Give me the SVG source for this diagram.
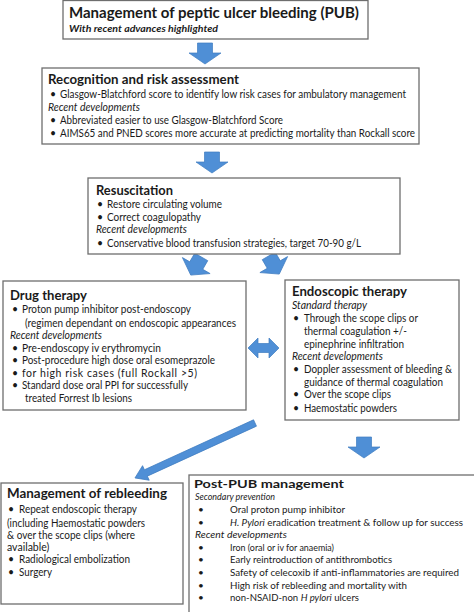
<svg xmlns="http://www.w3.org/2000/svg" width="474" height="612" viewBox="0 0 474 612">
<style>
.box{fill:#fff;stroke:#6e6e6e;stroke-width:1.3}
text{font-family:Lato,"Liberation Sans",sans-serif;fill:#1a1a1a}
.t{font-weight:bold;font-size:13.5px}
.b{font-size:10.5px}
.i{font-size:10.5px;font-style:italic}
.s{font-size:10px}
.si{font-size:10px;font-style:italic}
.arr{fill:#4f8fd6;stroke:#3f7cc0;stroke-width:0.7}
</style>
<defs>
<path id="down" d="M-7.5,-10.5 H7.5 V-0.5 H16 L0,10.5 L-16,-0.5 H-7.5 Z"/>
</defs>
<g id="connectors">
<use href="#down" class="arr" transform="translate(205,53.5)"/>
<use href="#down" class="arr" transform="translate(212,162.5)"/>
<use href="#down" class="arr" transform="translate(196,266) rotate(30)"/>
<use href="#down" class="arr" transform="translate(274,265) rotate(-30)"/>
<path class="arr" d="M248,348 L258,338 V343.5 H269 V338 L279,348 L269,358 V352.5 H258 V358 Z"/>
<path class="arr" transform="translate(255,423) rotate(155.4)" d="M0,-3.5 H120 V-8 L132,0 L120,8 V3.5 H0 Z"/>
<use href="#down" class="arr" transform="translate(364,447.5)"/>
</g>
<g id="title">
<rect class="box" x="63" y="0.5" width="305" height="38.5"/>
<text x="69" y="18" font-size="15.5" font-weight="bold" textLength="290" lengthAdjust="spacingAndGlyphs">Management of peptic ulcer bleeding (PUB)</text>
<text x="69" y="32" font-size="9.5" font-weight="bold" font-style="italic" textLength="149" lengthAdjust="spacingAndGlyphs">With recent advances highlighted</text>
</g>
<g id="recognition">
<rect class="box" x="42" y="68" width="377" height="76"/>
<text class="t" x="48" y="84" textLength="191" lengthAdjust="spacingAndGlyphs">Recognition and risk assessment</text>
<text class="b" x="50" y="98">•</text>
<text class="b" x="60" y="98" textLength="346" lengthAdjust="spacingAndGlyphs">Glasgow-Blatchford score to identify low risk cases for ambulatory management</text>
<text class="i" x="48" y="111" textLength="92" lengthAdjust="spacingAndGlyphs">Recent developments</text>
<text class="b" x="50" y="124">•</text>
<text class="b" x="60" y="124" textLength="223" lengthAdjust="spacingAndGlyphs">Abbreviated easier to use Glasgow-Blatchford Score</text>
<text class="b" x="50" y="137">•</text>
<text class="b" x="60" y="137" textLength="355" lengthAdjust="spacingAndGlyphs">AIMS65 and PNED scores more accurate at predicting mortality than Rockall score</text>
</g>
<g id="resuscitation">
<rect class="box" x="88" y="178" width="312" height="76"/>
<text class="t" x="96" y="195" textLength="77" lengthAdjust="spacingAndGlyphs">Resuscitation</text>
<text class="b" x="97" y="208">•</text>
<text class="b" x="107" y="208" textLength="115" lengthAdjust="spacingAndGlyphs">Restore circulating volume</text>
<text class="b" x="97" y="221">•</text>
<text class="b" x="107" y="221" textLength="94" lengthAdjust="spacingAndGlyphs">Correct coagulopathy</text>
<text class="i" x="96" y="233" textLength="91" lengthAdjust="spacingAndGlyphs">Recent developments</text>
<text class="b" x="97" y="247">•</text>
<text class="b" x="107" y="247" textLength="254" lengthAdjust="spacingAndGlyphs">Conservative blood transfusion strategies, target 70-90 g/L</text>
</g>
<g id="drug">
<rect class="box" x="3" y="281" width="243" height="129"/>
<text class="t" x="10" y="300" textLength="77" lengthAdjust="spacingAndGlyphs">Drug therapy</text>
<text class="b" x="12" y="313">•</text>
<text class="b" x="22" y="313" textLength="169" lengthAdjust="spacingAndGlyphs">Proton pump inhibitor post-endoscopy</text>
<text class="b" x="25" y="327" textLength="211" lengthAdjust="spacingAndGlyphs">(regimen dependant on endoscopic appearances</text>
<text class="i" x="10" y="339" textLength="92" lengthAdjust="spacingAndGlyphs">Recent developments</text>
<text class="b" x="12" y="352">•</text>
<text class="b" x="22" y="352" textLength="139" lengthAdjust="spacingAndGlyphs">Pre-endoscopy iv erythromycin</text>
<text class="b" x="12" y="364">•</text>
<text class="b" x="22" y="364" textLength="193" lengthAdjust="spacingAndGlyphs">Post-procedure high dose oral esomeprazole</text>
<text class="b" x="12" y="377">•</text>
<text class="b" x="22" y="377" textLength="175" lengthAdjust="spacing">for high risk cases (full Rockall &gt;5)</text>
<text class="b" x="12" y="389">•</text>
<text class="b" x="22" y="389" textLength="166" lengthAdjust="spacingAndGlyphs">Standard dose oral PPI for successfully</text>
<text class="b" x="25" y="402" textLength="107" lengthAdjust="spacingAndGlyphs">treated Forrest Ib lesions</text>
</g>
<g id="endoscopic">
<rect class="box" x="285" y="280" width="174" height="140"/>
<text class="t" x="292" y="296" textLength="115" lengthAdjust="spacingAndGlyphs">Endoscopic therapy</text>
<text class="i" x="292" y="309" textLength="75" lengthAdjust="spacingAndGlyphs">Standard therapy</text>
<text class="b" x="293" y="322">•</text>
<text class="b" x="304" y="322" textLength="114" lengthAdjust="spacingAndGlyphs">Through the scope clips or</text>
<text class="b" x="304" y="335" textLength="103" lengthAdjust="spacingAndGlyphs">thermal coagulation +/-</text>
<text class="b" x="304" y="348" textLength="100" lengthAdjust="spacingAndGlyphs">epinephrine infiltration</text>
<text class="i" x="292" y="360" textLength="91" lengthAdjust="spacingAndGlyphs">Recent developments</text>
<text class="b" x="293" y="373">•</text>
<text class="b" x="304" y="373" textLength="148" lengthAdjust="spacingAndGlyphs">Doppler assessment of bleeding &amp;</text>
<text class="b" x="304" y="386" textLength="139" lengthAdjust="spacingAndGlyphs">guidance of thermal coagulation</text>
<text class="b" x="293" y="398">•</text>
<text class="b" x="304" y="398" textLength="87" lengthAdjust="spacingAndGlyphs">Over the scope clips</text>
<text class="b" x="293" y="412">•</text>
<text class="b" x="304" y="412" textLength="93" lengthAdjust="spacingAndGlyphs">Haemostatic powders</text>
</g>
<g id="rebleeding">
<rect class="box" x="1" y="483" width="182" height="121"/>
<text class="t" x="7" y="498" textLength="160" lengthAdjust="spacingAndGlyphs">Management of rebleeding</text>
<text class="b" x="8" y="513">•</text>
<text class="b" x="19" y="513" textLength="118" lengthAdjust="spacingAndGlyphs">Repeat endoscopic therapy</text>
<text class="b" x="7" y="527" textLength="138" lengthAdjust="spacingAndGlyphs">(including Haemostatic powders</text>
<text class="b" x="7" y="539" textLength="128" lengthAdjust="spacingAndGlyphs">&amp; over the scope clips (where</text>
<text class="b" x="7" y="551">available)</text>
<text class="b" x="8" y="563">•</text>
<text class="b" x="19" y="563" textLength="111" lengthAdjust="spacingAndGlyphs">Radiological embolization</text>
<text class="b" x="8" y="576">•</text>
<text class="b" x="19" y="576" textLength="33" lengthAdjust="spacingAndGlyphs">Surgery</text>
</g>
<g id="postpub">
<rect class="box" x="189" y="475" width="292" height="142"/>
<text x="194" y="488" font-size="12" font-weight="bold" textLength="150" lengthAdjust="spacingAndGlyphs">Post-PUB management</text>
<text class="si" x="195" y="500" textLength="80" lengthAdjust="spacingAndGlyphs">Secondary prevention</text>
<text class="s" x="198" y="513">•</text>
<text class="s" x="230" y="513" textLength="115" lengthAdjust="spacingAndGlyphs">Oral proton pump inhibitor</text>
<text class="s" x="198" y="526">•</text>
<text class="s" x="230" y="526" textLength="233" lengthAdjust="spacingAndGlyphs"><tspan font-style="italic">H. Pylori</tspan> eradication treatment &amp; follow up for success</text>
<text class="si" x="195" y="538" textLength="92" lengthAdjust="spacingAndGlyphs">Recent developments</text>
<text class="s" x="198" y="551">•</text>
<text class="s" x="230" y="551" textLength="104" lengthAdjust="spacingAndGlyphs">Iron (oral or iv for anaemia)</text>
<text class="s" x="198" y="563">•</text>
<text class="s" x="230" y="563" textLength="162" lengthAdjust="spacingAndGlyphs">Early reintroduction of antithrombotics</text>
<text class="s" x="198" y="576">•</text>
<text class="s" x="230" y="576" textLength="229" lengthAdjust="spacingAndGlyphs">Safety of celecoxib if anti-inflammatories are required</text>
<text class="s" x="198" y="589">•</text>
<text class="s" x="230" y="589" textLength="177" lengthAdjust="spacingAndGlyphs">High risk of rebleeding and mortality with</text>
<text class="s" x="198" y="601">•</text>
<text class="s" x="230" y="601" textLength="129" lengthAdjust="spacingAndGlyphs">non-NSAID-non <tspan font-style="italic">H pylori</tspan> ulcers</text>
</g>
</svg>
